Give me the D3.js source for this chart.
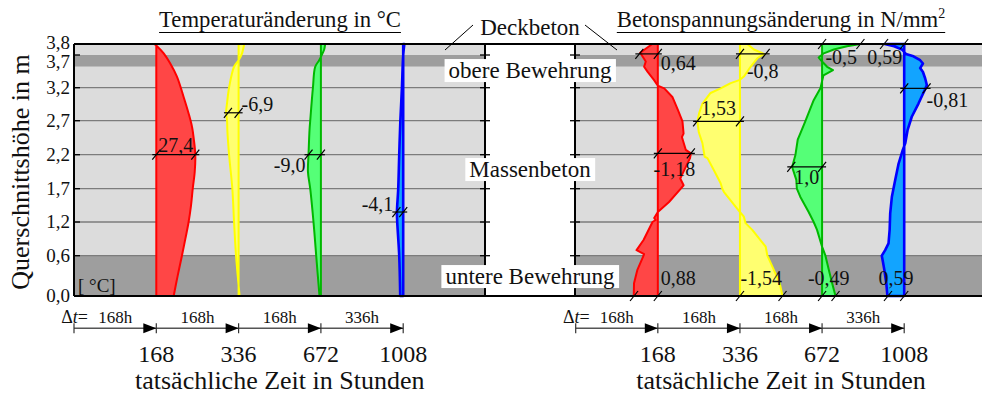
<!DOCTYPE html>
<html><head><meta charset="utf-8">
<script src="https://cdn.jsdelivr.net/npm/d3@7"></script>
<style>html,body{margin:0;padding:0;background:#fff}svg text{font-family:'Liberation Serif','DejaVu Serif',serif}</style>
</head><body><svg id="c" width="982" height="398" font-family="Liberation Serif, DejaVu Serif, serif"></svg>
<script>
// ---------------- data ----------------
const heightTicks = [0, 0.6, 1.2, 1.7, 2.2, 2.7, 3.2, 3.7, 3.8];
const heightTickLabels = ["0,0","0,6","1,2","1,7","2,2","2,7","3,2","3,7","3,8"];
const timeLabels = ["168","336","672","1008"];
const deltaLabels = ["168h","168h","168h","336h"];
const layerNames = ["Deckbeton","obere Bewehrung","Massenbeton","untere Bewehrung"];
const layerFrom = [3.7, 3.52, 0.6, 0];
const layerTo   = [3.8, 3.7, 3.52, 0.6];
const tempTitle = "Temperaturänderung in °C";
const stressTitle = "Betonspannungsänderung in N/mm";
const timeAxisTitle = "tatsächliche Zeit in Stunden";
const heightAxisTitle = "Querschnittshöhe in m";
const tempUnit = "[ °C]";

// temperature change [height m, °C]
const temp168 = [[3.8,-1.5],[3.78,0.5],[3.715,5.2],[3.57,9.8],[3.37,14.5],[3.06,19.2],[2.81,22.7],[2.61,25.1],[2.42,26.4],[2.2,27.4],[1.95,27],[1.7,25.6],[1.45,24.4],[1.2,22.7],[0.9,20.4],[0.6,18],[0.3,15],[0,12.2]];
const temp336 = [[3.8,3.9],[3.71,2.3],[3.62,0],[3.52,-3.2],[3.2,-6.7],[2.95,-8.2],[2.82,-8.8],[2.7,-8.1],[2.56,-7.9],[2.2,-6.7],[1.7,-4.4],[1.2,-3.2],[0.6,-1.8],[0,0.7]];
const temp672 = [[3.8,3],[3.75,2.3],[3.71,1],[3.62,-1.2],[3.52,-4],[3.2,-5.6],[2.7,-7.5],[2.56,-8],[2.2,-8.7],[1.95,-9.1],[1.7,-7.5],[1.2,-5.2],[0.6,-3.3],[0,-1]];
const temp1008 = [[3.8,0.8],[3.7,0],[3.2,-0.9],[2.7,-2],[2.2,-2.8],[1.7,-3.5],[1.35,-4.4],[1.2,-4.2],[0.6,-2.8],[0,-2.1]];

// concrete stress change [height m, N/mm2]
const stress168 = [[3.8,0.2],[3.72,0.63],[3.6,0.43],[3.52,0.49],[3.445,0.37],[3.32,0.14],[3.23,0],[3.19,-0.23],[3.06,-0.52],[2.86,-0.72],[2.69,-0.88],[2.51,-0.92],[2.46,-0.86],[2.27,-1.0],[2.22,-1.18],[2.15,-1.15],[1.97,-0.94],[1.85,-0.8],[1.75,-0.92],[1.7,-0.82],[1.5,-0.4],[1.35,0],[1.26,0.13],[1.23,0.08],[1.2,0.19],[0.88,0.51],[0.7,0.76],[0.63,0.49],[0.6,0.51],[0.39,0.73],[0.19,0.85],[0,0.86]];
const stress336 = [[3.8,-0.26],[3.75,-0.5],[3.71,-0.86],[3.65,-0.62],[3.52,-0.38],[3.37,-0.14],[3.32,0],[3.27,0.33],[3.19,0.69],[3.12,1.05],[2.96,1.34],[2.81,1.46],[2.69,1.52],[2.53,1.47],[2.37,1.34],[2.17,1.26],[2.15,1.16],[1.97,0.93],[1.78,0.69],[1.7,0.63],[1.65,0.57],[1.35,0],[1.28,-0.14],[1.18,-0.2],[1.06,-0.44],[0.76,-0.92],[0.6,-0.98],[0.39,-1.21],[0.19,-1.42],[0,-1.52]];
const stress672 = [[3.8,-1.37],[3.78,-0.89],[3.75,-0.42],[3.715,-0.06],[3.66,0.12],[3.6,0],[3.52,-0.18],[3.47,-0.39],[3.39,-0.05],[3.19,0.06],[3.01,0.3],[2.69,0.6],[2.51,0.78],[2.42,0.87],[2.2,0.95],[2.02,1.07],[1.83,0.92],[1.7,0.9],[1.58,0.78],[1.35,0.48],[1.2,0.3],[1.06,0.18],[0.76,0],[0.6,-0.12],[0.39,-0.24],[0.19,-0.36],[0,-0.48]];
const stress1008 = [[3.8,0.7],[3.78,0.36],[3.75,0.08],[3.71,-0.06],[3.68,-0.33],[3.62,-0.57],[3.57,-0.67],[3.5,-0.57],[3.44,-0.67],[3.34,-0.75],[3.24,-0.81],[3.18,-0.75],[2.96,-0.51],[2.76,-0.27],[2.56,-0.12],[2.37,-0.04],[2.27,0.05],[2.07,0.2],[1.83,0.32],[1.58,0.44],[1.33,0.5],[1.06,0.52],[0.82,0.56],[0.7,0.68],[0.6,0.8],[0.51,0.76],[0.39,0.71],[0.19,0.64],[0,0.6]];

// dimension annotations: series index, height, extent, printed text
const tempNotes = [
  {s:0, h:2.2,  v:27.4, text:"27,4"},
  {s:1, h:2.82, v:-7.5, text:"-6,9"},
  {s:2, h:2.2,  v:-8.7, text:"-9,0"},
  {s:3, h:1.35, v:-4.8, text:"-4,1"}
];
const stressNotes = [
  {s:0, h:3.71, v:0.66,  text:"0,64"},
  {s:0, h:2.22, v:-1.18, text:"-1,18"},
  {s:0, h:0,    v:0.85,  text:"0,88"},
  {s:1, h:3.71, v:-0.92, text:"-0,8"},
  {s:1, h:2.69, v:1.53,  text:"1,53"},
  {s:1, h:0,    v:-1.52, text:"-1,54"},
  {s:2, h:3.8,  v:-1.37, text:"-0,5"},
  {s:2, h:2.02, v:1.1,   text:"1,0"},
  {s:2, h:0,    v:-0.48, text:"-0,49"},
  {s:3, h:3.8,  v:0.72,  text:"0,59"},
  {s:3, h:3.19, v:-0.8,  text:"-0,81"},
  {s:3, h:0,    v:0.58,  text:"0,59"}
];

// ---------------- drawing ----------------
const svg = d3.select("#c");
const FONT = "'Liberation Serif','DejaVu Serif',serif";
const TOP = 44, BOT = 296;
const y = d3.scaleLinear().domain(heightTicks).range([296,255.7,222,188.7,154.7,120.7,87.7,55,44]);
const colDomain = ["0", ...timeLabels];
const panels = [
  {x0:74,  x1:485, col:d3.scalePoint().domain(colDomain).range([74,403.2])},
  {x0:575, x1:990, col:d3.scalePoint().domain(colDomain).range([575.7,904.2])}
];
const tScale = d3.scaleLinear().domain([0, 27.4]).range([0, 39]);   // °C -> px (positive right)
const sScale = d3.scaleLinear().domain([0, 1]).range([0, -28]);     // N/mm2 -> px (positive left)
const fills   = ["#ff4646","#ffff70","#55ff77","#12a4ff"];
const strokes = ["#ff0000","#ffff00","#00b800","#0000ff"];
const light = "#dcdcdc", dark = "#9e9e9e";

function txt(sel) { return sel.append("text").style("font-family", FONT).attr("fill","#111"); }

// background layers
panels.forEach(p => {
  layerNames.forEach((n,i) => {
    svg.append("rect").attr("x",p.x0).attr("width",p.x1-p.x0)
      .attr("y",y(layerTo[i])).attr("height",y(layerFrom[i])-y(layerTo[i]))
      .attr("fill", i%2 ? dark : light);
  });
  heightTicks.filter(t => t>0 && t<3.7).forEach(t => {
    svg.append("line").attr("x1",p.x0).attr("x2",p.x1).attr("y1",y(t)).attr("y2",y(t))
      .attr("stroke","#7c7c7c").attr("stroke-width",1.3);
  });
});

// profiles
function drawProfiles(p, series, scale, curve) {
  series.forEach((data,i) => {
    const zx = p.col(timeLabels[i]);
    const area = d3.area().y(d => y(d[0])).x0(zx).x1(d => zx + scale(d[1])).curve(curve);
    svg.append("path").attr("d", area(data)).attr("fill", fills[i])
      .attr("stroke", strokes[i]).attr("stroke-width", i===3 ? 2.6 : 2).attr("stroke-linejoin","round");
  });
}
drawProfiles(panels[0], [temp168,temp336,temp672,temp1008], tScale, d3.curveCatmullRom);
drawProfiles(panels[1], [stress168,stress336,stress672,stress1008], sScale, d3.curveLinear);

// frame
const frame = svg.append("g").attr("stroke","#000").attr("stroke-width",2);
frame.append("line").attr("x1",74).attr("x2",990).attr("y1",TOP).attr("y2",TOP);
frame.append("line").attr("x1",74).attr("x2",990).attr("y1",BOT).attr("y2",BOT);
[74,485,575].forEach(x => frame.append("line").attr("x1",x).attr("x2",x).attr("y1",TOP).attr("y2",BOT));
heightTicks.forEach(t => {
  svg.append("line").attr("x1",74).attr("x2",80).attr("y1",y(t)).attr("y2",y(t)).attr("stroke","#000").attr("stroke-width",1.3);
  [485,575].forEach(x => svg.append("line").attr("x1",x-5).attr("x2",x+5).attr("y1",y(t)).attr("y2",y(t)).attr("stroke","#000").attr("stroke-width",1.3));
});

// y tick labels
heightTicks.forEach((t,i) => {
  txt(svg).attr("x",70).attr("y",y(t) + (t===3.7 ? 7 : t===3.8 ? -1 : 0)).attr("dy","0.33em")
    .attr("text-anchor","end").attr("font-size",19).text(heightTickLabels[i]);
});
txt(svg).attr("transform","translate(29,172) rotate(-90)").attr("text-anchor","middle")
  .attr("font-size",26).text(heightAxisTitle);
txt(svg).attr("x",78).attr("y",285).attr("dy","0.35em").attr("font-size",19).text(tempUnit);

// annotations
function drawNotes(p, notes, scale, place) {
  notes.forEach((n,k) => {
    const zx = p.col(timeLabels[n.s]);
    const vx = zx + scale(n.v);
    const yy = y(n.h);
    const a = Math.min(zx,vx), b = Math.max(zx,vx);
    const g = svg.append("g").attr("stroke","#000").attr("stroke-width",1.2);
    g.append("line").attr("x1",a-4).attr("x2",b+4).attr("y1",yy).attr("y2",yy);
    [a,b].forEach(x => g.append("line").attr("x1",x-4).attr("x2",x+4).attr("y1",yy+5).attr("y2",yy-5));
    const pl = place[k];
    const ref = pl.ref==="mid" ? (a+b)/2 : pl.ref==="zero" ? zx : pl.ref==="min" ? a : b;
    txt(svg).attr("x",ref+pl.dx).attr("y",yy+pl.dy).attr("dy","0.35em")
      .attr("text-anchor",pl.anchor).attr("font-size",20).text(n.text);
  });
}
drawNotes(panels[0], tempNotes, tScale, [
  {ref:"mid",dx:0,dy:-10,anchor:"middle"},
  {ref:"zero",dx:3,dy:-9,anchor:"start"},
  {ref:"min",dx:-3,dy:10,anchor:"end"},
  {ref:"min",dx:-3,dy:-8,anchor:"end"}
]);
drawNotes(panels[1], stressNotes, sScale, [
  {ref:"zero",dx:3,dy:9,anchor:"start"},
  {ref:"mid",dx:0,dy:16,anchor:"middle"},
  {ref:"zero",dx:3,dy:-18,anchor:"start"},
  {ref:"zero",dx:7,dy:17,anchor:"start"},
  {ref:"mid",dx:0,dy:-13,anchor:"middle"},
  {ref:"mid",dx:0,dy:-18,anchor:"middle"},
  {ref:"mid",dx:0,dy:13,anchor:"middle"},
  {ref:"mid",dx:0,dy:10,anchor:"middle"},
  {ref:"mid",dx:0,dy:-18,anchor:"middle"},
  {ref:"zero",dx:-2,dy:13,anchor:"end"},
  {ref:"max",dx:0,dy:12,anchor:"start"},
  {ref:"mid",dx:0,dy:-18,anchor:"middle"}
]);

// layer labels in the gap
const gapX = 530;
const labelY = [null, 70, 169, 276];
[1,2,3].forEach(i => {
  const t = txt(svg).attr("x",gapX).attr("y",labelY[i]).attr("dy","0.35em")
    .attr("text-anchor","middle").attr("font-size",23).text(layerNames[i]);
  const bb = t.node().getBBox();
  svg.insert("rect", () => t.node()).attr("x",bb.x-4).attr("y",bb.y+1).attr("width",bb.width+8).attr("height",bb.height-2).attr("fill","#fff");
});
txt(svg).attr("x",gapX).attr("y",27).attr("dy","0.35em").attr("text-anchor","middle").attr("font-size",23).text(layerNames[0]);
svg.append("line").attr("x1",473).attr("y1",25).attr("x2",445).attr("y2",50).attr("stroke","#000").attr("stroke-width",1);
svg.append("line").attr("x1",585).attr("y1",25).attr("x2",617).attr("y2",50).attr("stroke","#000").attr("stroke-width",1);

// titles with underline
function title(cx, s, sup) {
  const t = txt(svg).attr("x",cx).attr("y",27).attr("text-anchor","middle").attr("font-size",22.7).text(s);
  if (sup) t.append("tspan").attr("dy",-9).attr("font-size",14).text(sup);
  const bb = t.node().getBBox();
  svg.append("line").attr("x1",bb.x).attr("x2",bb.x+bb.width).attr("y1",32.5).attr("y2",32.5).attr("stroke","#000").attr("stroke-width",1.1);
}
title(280, tempTitle);
title(781, stressTitle, "2");

// time axes
panels.forEach(p => {
  const ay = 328.3;
  const xs = colDomain.map(d => p.col(d));
  svg.append("line").attr("x1",xs[0]).attr("x2",xs[xs.length-1]).attr("y1",ay).attr("y2",ay).attr("stroke","#555").attr("stroke-width",1.4);
  xs.forEach(x => svg.append("line").attr("x1",x).attr("x2",x).attr("y1",ay-5).attr("y2",ay+5).attr("stroke","#333").attr("stroke-width",1.2));
  timeLabels.forEach((t,i) => {
    const x = p.col(t);
    svg.append("path").attr("d",`M${x},${ay}L${x-13},${ay-5}L${x-13},${ay+5}Z`).attr("fill","#000");
    txt(svg).attr("x",(xs[i]+xs[i+1])/2).attr("y",323).attr("text-anchor","middle").attr("font-size",17).text(deltaLabels[i]);
    txt(svg).attr("x",x).attr("y",362).attr("text-anchor","middle").attr("font-size",24).text(t);
  });
  const dt = txt(svg).attr("x",xs[0]+14).attr("y",323).attr("text-anchor","end").attr("font-size",18);
  dt.append("tspan").text("Δ");
  dt.append("tspan").attr("font-style","italic").text("t");
  dt.append("tspan").text("=");
  txt(svg).attr("x",(xs[1]+xs[4])/2).attr("y",389).attr("text-anchor","middle").attr("font-size",26).text(timeAxisTitle);
});
</script></body></html>
